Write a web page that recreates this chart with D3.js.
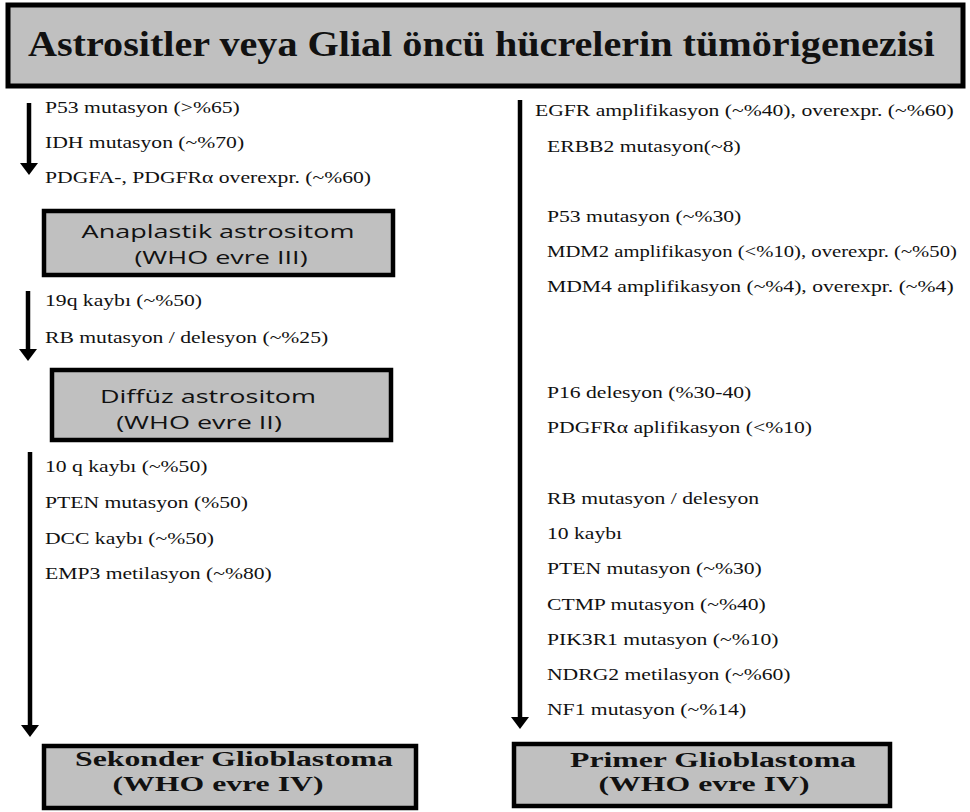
<!DOCTYPE html>
<html>
<head>
<meta charset="utf-8">
<script src="https://cdn.jsdelivr.net/npm/d3@7"></script>
<style>
  body { margin: 0; background: #fff; }
  svg { display: block; }
</style>
</head>
<body>
<svg id="chart"></svg>
<script>
(function() {

// data
var title = "Astrositler veya Glial öncü hücrelerin tümörigenezisi";

var stageAnaplastic = ["Anaplastik astrositom", "(WHO evre III)"];
var stageDiffuse = ["Diffüz astrositom", "(WHO evre II)"];
var stageSecondary = ["Sekonder Glioblastoma", "(WHO evre IV)"];
var stagePrimary = ["Primer Glioblastoma", "(WHO evre IV)"];

var toAnaplastic = [
  "P53 mutasyon (>%65)",
  "IDH mutasyon (~%70)",
  "PDGFA-, PDGFRα overexpr. (~%60)"
];
var toDiffuse = [
  "19q kaybı (~%50)",
  "RB mutasyon / delesyon (~%25)"
];
var toSecondary = [
  "10 q kaybı (~%50)",
  "PTEN mutasyon (%50)",
  "DCC kaybı (~%50)",
  "EMP3 metilasyon (~%80)"
];
// empty strings are the blank rows of the right column
var toPrimary = [
  "EGFR amplifikasyon (~%40), overexpr. (~%60)",
  "ERBB2 mutasyon(~8)",
  "",
  "P53 mutasyon (~%30)",
  "MDM2 amplifikasyon (<%10), overexpr. (~%50)",
  "MDM4 amplifikasyon (~%4), overexpr. (~%4)",
  "",
  "",
  "P16 delesyon (%30-40)",
  "PDGFRα aplifikasyon (<%10)",
  "",
  "RB mutasyon / delesyon",
  "10 kaybı",
  "PTEN mutasyon (~%30)",
  "CTMP mutasyon (~%40)",
  "PIK3R1 mutasyon (~%10)",
  "NDRG2 metilasyon (~%60)",
  "NF1 mutasyon (~%14)"
];

var width = 970, height = 812;

var svg = d3.select("#chart")
  .attr("width", width)
  .attr("height", height);

var ink = "#111";

// font styles
var serif = "'Liberation Serif', 'Times New Roman', serif",
    sans = "'Open Sans', 'Noto Sans', sans-serif";

// probe to get the horizontal stretch that fits the original widths
function probe(str, size, fam, weight, target) {
  var t = svg.append("text")
    .attr("font-family", fam)
    .attr("font-size", size)
    .attr("font-weight", weight)
    .text(str);
  var s = target / t.node().getComputedTextLength();
  t.remove();
  return s;
}

var smallSize = 16,
    smallScale = probe(toAnaplastic[0], smallSize, serif, "normal", 195),
    rightEdge = 957;
var titleSize = 35,
    titleScale = probe(title, titleSize, serif, "bold", 907);
var boxSansSize = 18,
    boxSansScale = probe(stageAnaplastic[0], boxSansSize, sans, "normal", 273);
var boxSerifSize = 20,
    boxSerifScale = probe(stageSecondary[0], boxSerifSize, serif, "bold", 318);

// title box
svg.append("rect")
  .attr("x", 8).attr("y", 5)
  .attr("width", 955).attr("height", 81)
  .attr("fill", "#c0c0c0")
  .attr("stroke", "#000")
  .attr("stroke-width", 5);

svg.append("text")
  .attr("font-family", serif)
  .attr("font-size", titleSize)
  .attr("font-weight", "bold")
  .attr("fill", ink)
  .attr("transform", "translate(28," + (44 + titleSize * 0.33) + ") scale(" + titleScale + ",1)")
  .text(title);

// arrows
function arrow(x, y0, y1) {
  var headH = 12, headW = 9;
  svg.append("line")
    .attr("x1", x).attr("x2", x)
    .attr("y1", y0).attr("y2", y1 - headH + 1)
    .attr("stroke", "#000")
    .attr("stroke-width", 4.5);
  svg.append("path")
    .attr("d", d3.line()([[x - headW, y1 - headH], [x + headW, y1 - headH], [x, y1]]) + "Z")
    .attr("fill", "#000");
}

arrow(29, 103, 175);
arrow(28, 291, 361);
arrow(30, 452, 737);
arrow(520, 100, 729);

// alteration lists
function list(items, x, y) {
  var g = svg.append("g");
  g.selectAll("text")
    .data(items)
    .enter().append("text")
    .attr("font-family", serif)
    .attr("font-size", smallSize)
    .attr("fill", ink)
    .text(function(d) { return d; })
    .attr("transform", function(d, i) {
      var w = this.getComputedTextLength() || 1,
          sx = Math.min(smallScale, (rightEdge - x(i)) / w);
      return "translate(" + x(i) + "," + (y(i) + smallSize * 0.33) + ") scale(" + sx + ",1)";
    });
}

var yA = d3.scaleLinear().domain([0, toAnaplastic.length - 1]).range([108, 178]);
var yD = d3.scaleLinear().domain([0, toDiffuse.length - 1]).range([301, 338]);
var yS = d3.scaleLinear().domain([0, toSecondary.length - 1]).range([467, 574]);
var yP = d3.scaleLinear().domain([0, toPrimary.length - 1]).range([111, 710]);

list(toAnaplastic, function() { return 45; }, yA);
list(toDiffuse, function() { return 45; }, yD);
list(toSecondary, function() { return 45; }, yS);
list(toPrimary, function(i) { return i === 0 ? 535 : 547; }, yP);

// stage boxes
function stageBox(lines, x0, y0, x1, y1, cx, capYs, size, fam, weight, sx) {
  svg.append("rect")
    .attr("x", x0 + 2).attr("y", y0 + 2)
    .attr("width", x1 - x0 - 4).attr("height", y1 - y0 - 4)
    .attr("fill", "#c0c0c0")
    .attr("stroke", "#000")
    .attr("stroke-width", 4.5);
  svg.selectAll(null)
    .data(lines)
    .enter().append("text")
    .attr("font-family", fam)
    .attr("font-size", size)
    .attr("font-weight", weight)
    .attr("fill", ink)
    .attr("text-anchor", "middle")
    .attr("transform", function(d, i) {
      return "translate(" + cx[i] + "," + (capYs[i] + size * 0.36) + ") scale(" + sx + ",1)";
    })
    .text(function(d) { return d; });
}

stageBox(stageAnaplastic, 42, 209, 395, 277, [218, 221], [232, 258], boxSansSize, sans, "normal", boxSansScale);
stageBox(stageDiffuse, 50, 368, 393, 442, [208, 199], [397, 423], boxSansSize, sans, "normal", boxSansScale);
stageBox(stageSecondary, 42, 744, 418, 810, [234, 218], [759, 784], boxSerifSize, serif, "bold", boxSerifScale);
stageBox(stagePrimary, 512, 742, 892, 808, [713, 704], [760, 784], boxSerifSize, serif, "bold", boxSerifScale);

})();
</script>
</body>
</html>
